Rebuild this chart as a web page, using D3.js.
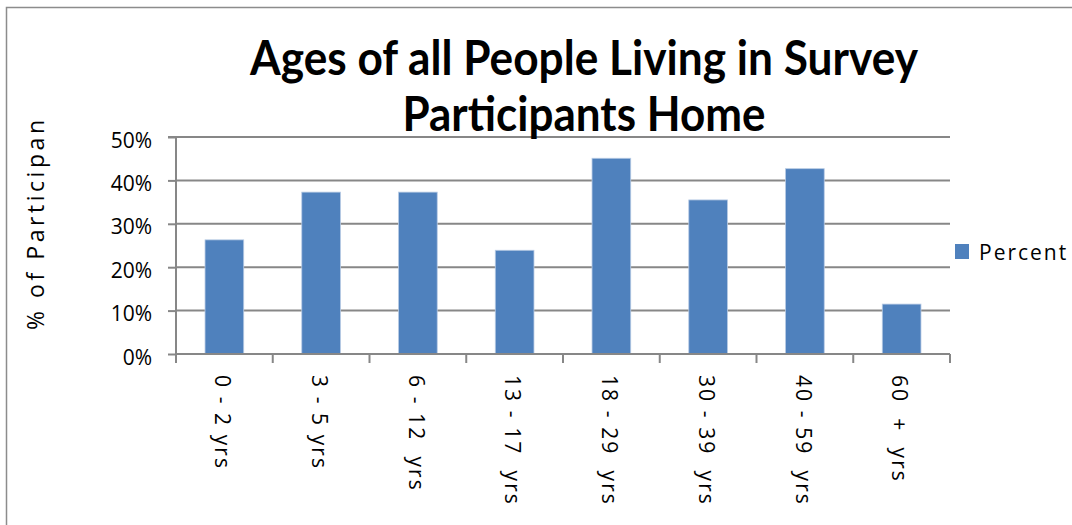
<!DOCTYPE html>
<html>
<head>
<meta charset="utf-8">
<script src="https://cdn.jsdelivr.net/npm/d3@7"></script>
<style>
  html, body { margin: 0; padding: 0; background: #fff; }
  svg { display: block; }
</style>
</head>
<body>
<svg id="chart" width="1072" height="525"></svg>
<script>
// ---- data ----
const categories = ["0 - 2 yrs", "3 - 5 yrs", "6 - 12  yrs", "13 - 17  yrs", "18 - 29  yrs", "30 - 39  yrs", "40 - 59  yrs", "60  +  yrs"];
const percentValues = [0.263, 0.373, 0.373, 0.239, 0.451, 0.355, 0.427, 0.115];
const yTicks = [0, 0.1, 0.2, 0.3, 0.4, 0.5];
const seriesName = "Percent";
const titleLines = ["Ages of all People Living in Survey", "Participants Home"];
const yAxisTitle = "% of Participan";

// ---- layout ----
const svg = d3.select("#chart");
const plot = { left: 176, right: 950, top: 137, bottom: 354 };
const gridColor = "#878787";
const barColor = "#4F81BD";
const font = "'Open Sans', 'Liberation Sans', sans-serif";

// chart border
svg.append("rect")
  .attr("x", 6.5).attr("y", 7.5)
  .attr("width", 1100).attr("height", 560)
  .attr("fill", "none").attr("stroke", "#8c8c8c").attr("stroke-width", 1.5);

const x = d3.scaleBand().domain(categories).range([plot.left, plot.right]).paddingInner(0.6).paddingOuter(0.3);
const y = d3.scaleLinear().domain([0, 0.5]).range([plot.bottom, plot.top]);

// gridlines
svg.append("g").selectAll("line").data(yTicks.filter(d => d > 0)).join("line")
  .attr("x1", plot.left).attr("x2", plot.right)
  .attr("y1", d => y(d)).attr("y2", d => y(d))
  .attr("stroke", gridColor).attr("stroke-width", 2);

// bars
svg.append("g").selectAll("rect").data(percentValues).join("rect")
  .attr("x", (d, i) => x(categories[i]))
  .attr("y", d => y(d))
  .attr("width", x.bandwidth())
  .attr("height", d => y(0) - y(d))
  .attr("fill", barColor)
  .attr("stroke", "#b8cbe4").attr("stroke-width", 0.8);

// y axis
const yAxis = d3.axisLeft(y).tickValues(yTicks).tickFormat(d3.format(".0%")).tickSize(8).tickPadding(16);
const gy = svg.append("g").attr("transform", `translate(${plot.left},0)`).call(yAxis);
gy.select(".domain").attr("stroke", gridColor).attr("stroke-width", 2).attr("d", `M-8,${plot.top}H0V${plot.bottom}`);
gy.selectAll(".tick line").attr("stroke", gridColor).attr("stroke-width", 2);
gy.selectAll(".tick text").attr("font-family", font).attr("font-size", 21).attr("fill", "#000").attr("dy", "0.48em");

// x axis
const xAxis = d3.axisBottom(x).tickSize(0).tickFormat("");
const gx = svg.append("g").attr("transform", `translate(0,${plot.bottom})`).call(xAxis);
gx.select(".domain").attr("stroke", gridColor).attr("stroke-width", 2).attr("d", `M${plot.left},0H${plot.right}`);
// boundary ticks
const step = x.step();
const boundaries = d3.range(categories.length + 1).map(i => plot.left + i * step);
gx.append("g").selectAll("line").data(boundaries).join("line")
  .attr("x1", d => d).attr("x2", d => d).attr("y1", 0).attr("y2", 9)
  .attr("stroke", gridColor).attr("stroke-width", 2);
// category labels rotated
svg.append("g").selectAll("text").data(categories).join("text")
  .attr("transform", d => `translate(${x(d) + x.bandwidth() / 2 - 2},${plot.bottom + 21}) rotate(90)`)
  .attr("font-family", font).attr("font-size", 21)
  .attr("letter-spacing", 2.1)
  .attr("dy", "0.35em")
  .style("white-space", "pre")
  .attr("fill", "#000")
  .text(d => d);

// y axis title
svg.append("text")
  .attr("transform", `translate(44,${(120 + 330) / 2}) rotate(-90)`)
  .attr("text-anchor", "middle")
  .attr("font-family", font).attr("font-size", 23)
  .attr("textLength", 210).attr("lengthAdjust", "spacing")
  .attr("fill", "#000")
  .text(yAxisTitle);

// title
const titleWidths = [668, 363];
const titleBaselines = [75, 131];
titleLines.forEach((t, i) => {
  svg.append("text")
    .attr("x", 584).attr("y", titleBaselines[i])
    .attr("text-anchor", "middle")
    .attr("font-family", "Lato, 'Open Sans', sans-serif")
    .attr("font-weight", "bold")
    .attr("font-size", 48)
    .attr("textLength", titleWidths[i]).attr("lengthAdjust", "spacingAndGlyphs")
    .attr("fill", "#000")
    .text(t);
});

// legend
const lg = svg.append("g").attr("transform", "translate(955,244)");
lg.append("rect").attr("width", 14).attr("height", 15).attr("fill", barColor);
lg.append("text").attr("x", 24).attr("y", 8).attr("dy", "0.36em")
  .attr("font-family", font).attr("font-size", 21).attr("letter-spacing", 2)
  .attr("fill", "#000").text(seriesName);
</script>
</body>
</html>
